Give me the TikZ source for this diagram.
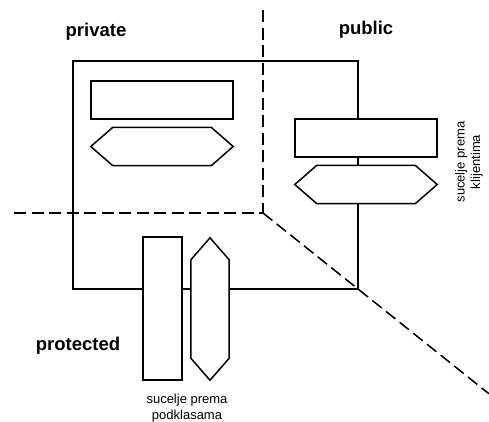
\documentclass[tikz,border=0pt]{standalone}
\usepackage{fontspec}
\setmainfont{Liberation Sans}
\usetikzlibrary{calc}
\begin{document}
\begin{tikzpicture}[x=1pt,y=-1pt,
  ln/.style={line width=1.5pt},
  dsh/.style={line width=1.5pt,dash pattern=on 12pt off 5.5pt},
  box/.style={draw,ln,fill=white,inner sep=0pt,minimum width=142pt,minimum height=38pt},
  vbox/.style={draw,ln,fill=white,inner sep=0pt,minimum width=39pt,minimum height=143pt},
  hexh/.style={inner sep=0pt,minimum width=142pt,minimum height=38pt},
  hexv/.style={inner sep=0pt,minimum width=38pt,minimum height=142pt},
  lbl/.style={font=\fontsize{18.5}{20}\selectfont\bfseries},
  sml/.style={font=\fontsize{13}{15.5}\selectfont,align=center,inner sep=0pt}]
\useasboundingbox (0,0) rectangle (489,421);
% box corners
\coordinate (tl) at (73,61);
\coordinate (tr) at (358,61);
\coordinate (bl) at (73,289);
\coordinate (br) at (358,289);
% dashed divider points
\coordinate (dtop) at (263,10);
\coordinate (dmid) at (263,213);
\coordinate (dleft) at (14,213);
\coordinate (dend) at (489,393.8);
% nodes
\node[box] (privrect) at (162,100) {};
\node[hexh] (privhex) at (162,146.5) {};
\node[box] (pubrect) at (366,138) {};
\node[hexh] (pubhex) at (366,184.5) {};
\node[vbox] (protrect) at (162.5,308.5) {};
\node[hexv] (prothex) at (210,309) {};
% dashed lines
\draw[dsh] (dtop) -- (dmid);
\draw[dsh] (dleft) -- (dmid);
\draw[dsh] (dmid) -- (dend);
% box outline
\draw[ln] (tr |- pubrect.north) -- (tr) -- (tl) -- (bl) -- (protrect.west |- bl);
\draw[ln] (protrect.east |- bl) -- (prothex.west |- bl);
\draw[ln] (prothex.east |- bl) -- (br) -- (tr |- pubhex.south);
\draw[ln] (tr |- pubrect.south) -- (tr |- pubhex.north);
% hexagons
\foreach \h in {privhex,pubhex}{
  \draw[ln,fill=white] (\h.west) -- ($(\h.north west)+(22,0)$) -- ($(\h.north east)+(-22,0)$)
    -- (\h.east) -- ($(\h.south east)+(-22,0)$) -- ($(\h.south west)+(22,0)$) -- cycle;
}
\draw[ln,fill=white] (prothex.north) -- ($(prothex.north east)+(0,22)$) -- ($(prothex.south east)+(0,-22)$)
  -- (prothex.south) -- ($(prothex.south west)+(0,-22)$) -- ($(prothex.north west)+(0,22)$) -- cycle;
% labels
\node[lbl] (lpriv) at (96,32) {private};
\node[lbl] (lpub) at (366,30) {public};
\node[lbl] (lprot) at (78,346) {protected};
\node[sml] (lsub) at (187,408) {sucelje prema\\podklasama};
\node[sml,rotate=90] (lcli) at (469,162) {sucelje prema\\klijentima};
\end{tikzpicture}
\end{document}
